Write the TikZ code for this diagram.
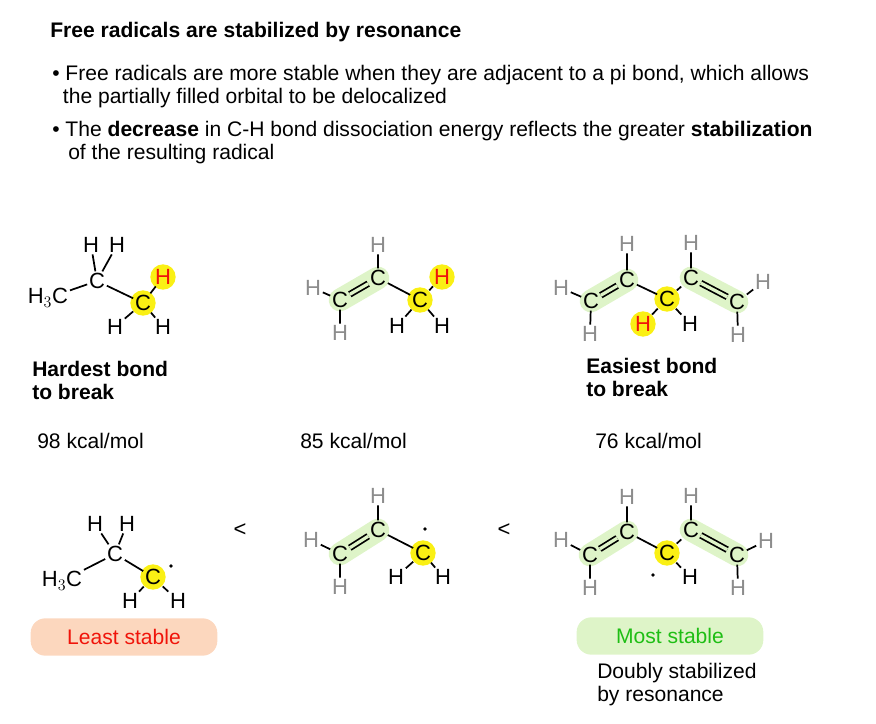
\documentclass[tikz,border=0pt]{standalone}
\usepackage{fontspec}
\setmainfont{Liberation Sans}
\usetikzlibrary{positioning}
\definecolor{pillgreen}{RGB}{222,244,200}
\definecolor{pillorange}{RGB}{252,215,190}
\definecolor{hlyellow}{RGB}{250,240,20}
\definecolor{hred}{RGB}{240,20,10}
\definecolor{hgray}{RGB}{140,140,140}
\definecolor{mgreen}{RGB}{30,190,20}

\begin{document}
\begin{tikzpicture}[x=0.75pt,y=0.75pt,yscale=-1,xscale=1,
  atom/.style={inner sep=1.2pt,font=\fontsize{16.5}{16.5}\selectfont},
  gatom/.style={atom,text=hgray},
  hl/.style={circle,fill=hlyellow,inner sep=0pt,minimum size=19pt},
  bond/.style={line width=1.3pt},
  dbond/.style={line width=1.3pt,double=pillgreen,double distance=2.4pt},
  pill/.style={line width=17pt,line cap=round,color=pillgreen},
  txt/.style={anchor=west,inner sep=0pt,font=\fontsize{15.8}{17}\selectfont},
  btxt/.style={txt,font=\fontsize{15.8}{17}\selectfont\bfseries}]
\useasboundingbox (0,0) rectangle (876,724);

% heading and bullets
\node[btxt] (title) at (50,32) {Free radicals are stabilized by resonance};
\node[txt,align=left,anchor=north west] (bul1) at (52,65) {\textbullet\ Free radicals are more stable when they are adjacent to a pi bond, which allows\\ \hspace*{8pt}the partially filled orbital to be delocalized};
\node[txt,align=left,anchor=north west] (bul2) at (52,121) {\textbullet\ The \textbf{decrease} in C-H bond dissociation energy reflects the greater \textbf{stabilization}\\ \hspace*{12pt}of the resulting radical};

% top row: propane
\node[hl] (y1) at (143,303) {};
\node[hl] (y1h) at (163,277) {};
\node[atom] (a1) at (48,298) {H$_3$C};
\node[atom] (a2) at (97,281) {C};
\node[atom] (a3) at (91,245) {H};
\node[atom] (a4) at (117,245) {H};
\node[atom] (a5) at (143,303) {C};
\node[atom,text=hred] (a6) at (163,277) {H};
\node[atom] (a7) at (115,327) {H};
\node[atom] (a8) at (163,327) {H};
\draw[bond] (a1) -- (a2) (a2) -- (a3) (a2) -- (a4) (a2) -- (a5) (a5) -- (a6) (a5) -- (a7) (a5) -- (a8);

% top row: propene
\draw[pill] (340,300) -- (378,278);
\node[hl] at (420,300) {};
\node[hl] at (442,277) {};
\node[gatom] (b1) at (313,288) {H};
\node[atom] (b2) at (340,300) {C};
\node[atom] (b3) at (378,278) {C};
\node[gatom] (b4) at (378,245) {H};
\node[gatom] (b5) at (340,333) {H};
\node[atom] (b6) at (420,300) {C};
\node[atom,text=hred] (b7) at (442,277) {H};
\node[atom] (b8) at (397,326) {H};
\node[atom] (b9) at (442,326) {H};
\draw[bond] (b1) -- (b2) (b2) -- (b5) (b3) -- (b4) (b3) -- (b6) (b6) -- (b7) (b6) -- (b8) (b6) -- (b9);
\draw[dbond] (b2) -- (b3);

% top row: pentadiene
\draw[pill] (591,301) -- (627,280);
\draw[pill] (691,278) -- (737,302);
\node[hl] at (667,299) {};
\node[hl] at (643,324) {};
\node[gatom] (c1) at (561,288) {H};
\node[atom] (c2) at (591,301) {C};
\node[atom] (c3) at (627,280) {C};
\node[gatom] (c4) at (627,244) {H};
\node[gatom] (c5) at (590,334) {H};
\node[atom] (c6) at (667,299) {C};
\node[atom,text=hred] (c7) at (643,324) {H};
\node[atom] (c8) at (690,324) {H};
\node[atom] (c9) at (691,278) {C};
\node[gatom] (c10) at (691,243) {H};
\node[atom] (c11) at (737,302) {C};
\node[gatom] (c12) at (763,282) {H};
\node[gatom] (c13) at (738,335) {H};
\draw[bond] (c1) -- (c2) (c2) -- (c5) (c3) -- (c4) (c3) -- (c6) (c6) -- (c7) (c6) -- (c8)
  (c6) -- (c9) (c9) -- (c10) (c11) -- (c12) (c11) -- (c13);
\draw[dbond] (c2) -- (c3) (c9) -- (c11);

% labels
\node[btxt,align=left,anchor=north west] (hard) at (32,361) {Hardest bond\\to break};
\node[btxt,align=left,anchor=north west] (easy) at (586,358) {Easiest bond\\to break};
\node[txt] (e1) at (37,441) {98 kcal/mol};
\node[txt] (e2) at (300,441) {85 kcal/mol};
\node[txt] (e3) at (595,441) {76 kcal/mol};

% bottom row: propyl radical
\node[hl] at (153,577) {};
\node[atom] (d1) at (62,581) {H$_3$C};
\node[atom] (d2) at (115,554) {C};
\node[atom] (d3) at (95,524) {H};
\node[atom] (d4) at (127,524) {H};
\node[atom] (d5) at (153,577) {C};
\node[atom] (d6) at (130,601) {H};
\node[atom] (d7) at (178,601) {H};
\fill (171,566) circle (1.8);
\draw[bond] (d1) -- (d2) (d2) -- (d3) (d2) -- (d4) (d2) -- (d5) (d5) -- (d6) (d5) -- (d7);

\node[atom] (lt1) at (240,530) {<};
\node[atom] (lt2) at (504,530) {<};

% bottom row: allyl radical
\draw[pill] (340,554) -- (378,530);
\node[hl] at (423,553) {};
\node[gatom] (e1a) at (311,540) {H};
\node[atom] (e2a) at (340,554) {C};
\node[atom] (e3a) at (378,530) {C};
\node[gatom] (e4a) at (378,496) {H};
\node[gatom] (e5a) at (340,587) {H};
\node[atom] (e6a) at (423,553) {C};
\node[atom] (e7a) at (396,577) {H};
\node[atom] (e8a) at (443,577) {H};
\fill (425,529) circle (1.8);
\draw[bond] (e1a) -- (e2a) (e2a) -- (e5a) (e3a) -- (e4a) (e3a) -- (e6a) (e6a) -- (e7a) (e6a) -- (e8a);
\draw[dbond] (e2a) -- (e3a);

% bottom row: pentadienyl radical
\draw[pill] (590,555) -- (627,532);
\draw[pill] (691,530) -- (737,555);
\node[hl] at (667,553) {};
\node[gatom] (f1) at (561,540) {H};
\node[atom] (f2) at (590,555) {C};
\node[atom] (f3) at (627,532) {C};
\node[gatom] (f4) at (627,497) {H};
\node[gatom] (f5) at (590,588) {H};
\node[atom] (f6) at (667,553) {C};
\node[atom] (f7) at (690,577) {H};
\node[atom] (f8) at (691,530) {C};
\node[gatom] (f9) at (691,496) {H};
\node[atom] (f10) at (737,555) {C};
\node[gatom] (f11) at (766,541) {H};
\node[gatom] (f12) at (738,588) {H};
\fill (653,575) circle (1.8);
\draw[bond] (f1) -- (f2) (f2) -- (f5) (f3) -- (f4) (f3) -- (f6) (f6) -- (f7) (f6) -- (f8)
  (f8) -- (f9) (f10) -- (f11) (f10) -- (f12);
\draw[dbond] (f2) -- (f3) (f8) -- (f10);

% stability tags
\node[rounded corners=11pt,fill=pillorange,minimum width=140,minimum height=28,
  text=hred,font=\fontsize{15.8}{17}\selectfont] (least) at (124,637) {Least stable};
\node[rounded corners=11pt,fill=pillgreen,minimum width=140,minimum height=28,
  text=mgreen,font=\fontsize{15.8}{17}\selectfont] (most) at (670,636) {Most stable};
\node[txt,align=left,anchor=north west] (doubly) at (597,663) {Doubly stabilized\\by resonance};
\end{tikzpicture}
\end{document}
